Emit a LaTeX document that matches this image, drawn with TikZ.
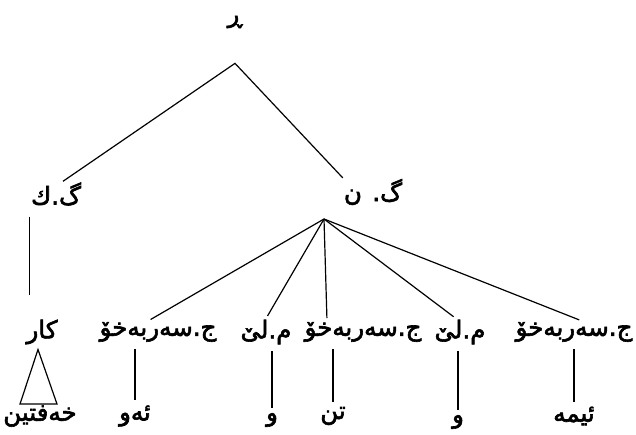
\documentclass[tikz,border=0pt]{standalone}
\usepackage{fontspec}
\newfontfamily\arabicfont[Script=Arabic, FakeBold=2.5]{DejaVu Sans}
\TeXXeTstate=1
\usetikzlibrary{positioning}
\newcommand{\kur}[1]{{\arabicfont\beginR #1\endR}}

\begin{document}
\begin{tikzpicture}[x=1pt, y=-1pt,
    every node/.style={font=\fontsize{24.5}{28}\selectfont, inner sep=1pt},
    edge/.style={draw=black, line width=1.2pt},
    leafline/.style={edge, shorten <=6pt, shorten >=4pt}
]
\useasboundingbox (0,0) rectangle (636,434);

% ڕستە
\node[font=\fontsize{24}{28}\selectfont] (s) at (235,22) {\kur{ڕ}};
\coordinate[below=34pt of s] (sj);

% گرێکان
\node (gk) at (56,194) {\kur{گ.ك}};
\node (gn) at (373,192) {\kur{گ. ن}};
\coordinate (hub) at (324,219);

% ڕیزی پۆلەکان
\node (kar) at (42,332) {\kur{كار}};
\node (j1) at (158,332) {\kur{ج.سەربەخۆ}};
\node (m1) at (266,332) {\kur{م.لێ}};
\node (j2) at (363,332) {\kur{ج.سەربەخۆ}};
\node (m2) at (460,332) {\kur{م.لێ}};
\node (j3) at (574,332) {\kur{ج.سەربەخۆ}};

% وشەکان
\node (l0) at (40,416) {\kur{خەفتین}};
\node (l1) at (135,416) {\kur{ئەو}};
\node (l2) at (272,420) {\kur{و}};
\node (l3) at (333,416) {\kur{تن}};
\node (l4) at (458,422) {\kur{و}};
\node (l5) at (574,416) {\kur{ئیمە}};

% هێڵەکان
\draw[edge] ([xshift=7pt]gk.north) -- (sj) -- (gn.north west);
\draw[edge, shorten <=10pt, shorten >=24pt] (gk.south west) -- (gk.south west |- kar.north);
\draw[edge] ([xshift=-4pt,yshift=-4pt]kar.south) -- ([xshift=-20pt]l0.north) -- ([xshift=17pt]l0.north) -- cycle;

\foreach \a/\dx in {j1/-10, m1/0, j2/-36, m2/-4, j3/8} {
    \draw[edge, shorten >=3pt] (hub) -- ([xshift=\dx pt]\a.north);
}

\foreach \a/\b in {j1/l1, m1/l2, j2/l3, m2/l4, j3/l5} {
    \draw[leafline] (\b.north |- \a.south) -- (\b.north);
}

\end{tikzpicture}
\end{document}
